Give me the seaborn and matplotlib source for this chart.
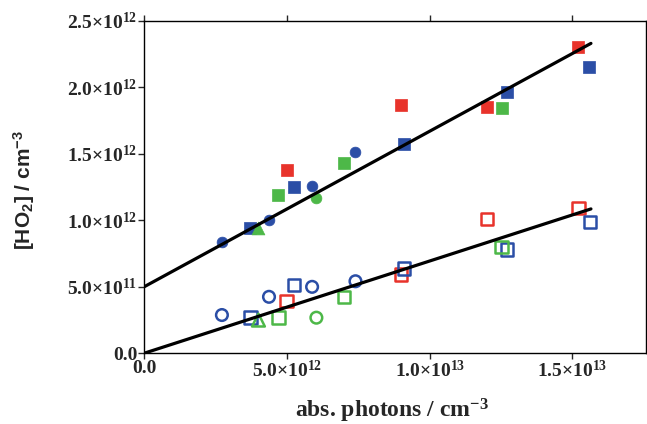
import numpy as np
import pandas as pd
import matplotlib
matplotlib.use("Agg")
import matplotlib.pyplot as plt
from matplotlib.ticker import MultipleLocator, FuncFormatter
import seaborn as sns

# filled symbols (upper set)
red_sq_x = [4.99e12, 9.0e12, 1.201e13, 1.518e13]
red_sq_y = [1.38e12, 1.864e12, 1.854e12, 2.30e12]
blue_sq_x = [3.72e12, 5.25e12, 9.09e12, 1.271e13, 1.559e13]
blue_sq_y = [0.94e12, 1.248e12, 1.572e12, 1.963e12, 2.15e12]
green_sq_x = [4.70e12, 7.0e12, 1.252e13]
green_sq_y = [1.19e12, 1.43e12, 1.846e12]
blue_ci_x = [2.72e12, 4.37e12, 5.88e12, 7.40e12]
blue_ci_y = [0.836e12, 1.0e12, 1.255e12, 1.514e12]
green_ci_x = [6.03e12]
green_ci_y = [1.168e12]
green_tri_x = [4.0e12]
green_tri_y = [0.94e12]

# open symbols (lower set)
red_sq_open_x = [4.99e12, 9.0e12, 1.201e13, 1.521e13]
red_sq_open_y = [0.391e12, 0.591e12, 1.01e12, 1.09e12]
blue_sq_open_x = [3.72e12, 5.25e12, 9.09e12, 1.271e13, 1.562e13]
blue_sq_open_y = [0.27e12, 0.511e12, 0.636e12, 0.78e12, 0.986e12]
green_sq_open_x = [4.70e12, 7.0e12, 1.252e13]
green_sq_open_y = [0.267e12, 0.424e12, 0.80e12]
blue_ci_open_x = [2.72e12, 4.37e12, 5.88e12, 7.40e12]
blue_ci_open_y = [0.287e12, 0.424e12, 0.499e12, 0.541e12]
green_ci_open_x = [6.03e12]
green_ci_open_y = [0.267e12]
green_tri_open_x = [4.0e12]
green_tri_open_y = [0.249e12]

# fitted lines
fit_x = [0.0, 1.565e13]
fit_upper_y = [5.0e11, 2.33e12]
fit_lower_y = [0.0, 1.085e12]

RED = "#e8332b"
BLUE = "#2b4ea6"
GREEN = "#4db848"

sns.set_style("ticks")
plt.rcParams['font.family'] = ['Liberation Serif', 'DejaVu Serif']
plt.rcParams['mathtext.fontset'] = 'custom'
plt.rcParams['mathtext.rm'] = 'Liberation Serif:bold'
plt.rcParams['mathtext.bf'] = 'Liberation Serif:bold'
plt.rcParams['mathtext.it'] = 'Liberation Serif:bold'
plt.rcParams['mathtext.sf'] = 'Liberation Sans:bold'

fig = plt.figure(figsize=(6.47, 4.24), dpi=100)
ax = fig.add_axes([0.223, 0.167, 0.7755, 0.784])

groups = [
    (red_sq_x, red_sq_y, RED, "s", 80, True),
    (blue_sq_x, blue_sq_y, BLUE, "s", 80, True),
    (green_sq_x, green_sq_y, GREEN, "s", 80, True),
    (blue_ci_x, blue_ci_y, BLUE, "o", 60, True),
    (green_ci_x, green_ci_y, GREEN, "o", 60, True),
    (green_tri_x, green_tri_y, GREEN, "^", 85, True),
    (red_sq_open_x, red_sq_open_y, RED, "s", 80, False),
    (blue_sq_open_x, blue_sq_open_y, BLUE, "s", 80, False),
    (green_sq_open_x, green_sq_open_y, GREEN, "s", 80, False),
    (blue_ci_open_x, blue_ci_open_y, BLUE, "o", 70, False),
    (green_ci_open_x, green_ci_open_y, GREEN, "o", 70, False),
    (green_tri_open_x, green_tri_open_y, GREEN, "^", 85, False),
]

for gx, gy, col, mk, size, filled in groups:
    if filled:
        sns.scatterplot(x=gx, y=gy, color=col, marker=mk, s=size,
                        edgecolor=col, linewidth=0.5, ax=ax, zorder=2)
    else:
        sns.scatterplot(x=gx, y=gy, color=col, marker=mk, s=size,
                        facecolor="none", edgecolor=col, linewidth=1.8,
                        ax=ax, zorder=2)

sns.lineplot(x=fit_x, y=fit_upper_y, color="black", lw=2.3, ax=ax, zorder=3)
sns.lineplot(x=fit_x, y=fit_lower_y, color="black", lw=2.3, ax=ax, zorder=3)

ax.set_xlim(0, 1.758e13)
ax.set_ylim(0, 2.5e12)
ax.xaxis.set_major_locator(MultipleLocator(5e12))
ax.yaxis.set_major_locator(MultipleLocator(5e11))


def sci_fmt(v, pos):
    if v == 0:
        return "0.0"
    exp = int(np.floor(np.log10(abs(v)) + 1e-9))
    mant = v / 10 ** exp
    return f"{mant:.1f}×10$^{{{exp}}}$"


ax.xaxis.set_major_formatter(FuncFormatter(sci_fmt))
ax.yaxis.set_major_formatter(FuncFormatter(sci_fmt))
ax.tick_params(direction="out", length=4, width=1, top=True, right=True,
               labelsize=14, pad=1)
for lab in ax.get_xticklabels() + ax.get_yticklabels():
    lab.set_fontweight("bold")

for sp in ax.spines.values():
    sp.set_visible(True)
    sp.set_linewidth(1.0)
    sp.set_color("black")

ax.set_xlabel("abs. photons / cm$^{-3}$", fontsize=17, fontweight="bold")
ax.set_ylabel(r"[HO$_\mathsf{2}$] / cm$^\mathsf{-3}$", fontsize=15,
              fontweight="bold", family=["Liberation Sans", "DejaVu Sans"])
ax.xaxis.set_label_coords(0.494, -0.13)
ax.yaxis.set_label_coords(-0.214, 0.49)

fig.savefig("out.png", dpi=100)
